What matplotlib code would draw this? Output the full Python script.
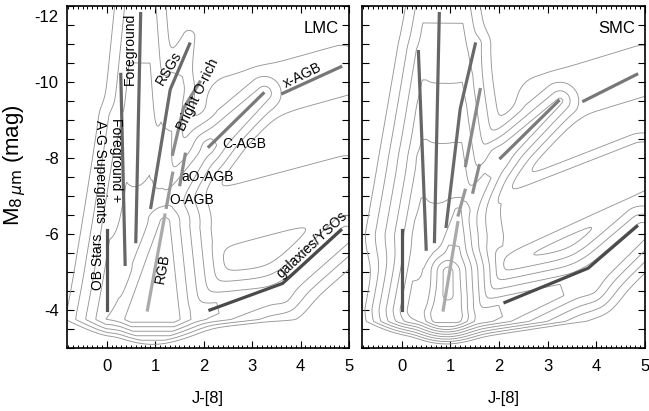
import numpy as np
import matplotlib
matplotlib.use("Agg")
import matplotlib.pyplot as plt
from matplotlib.ticker import MultipleLocator
from matplotlib.transforms import ScaledTranslation

plt.rcParams['font.family'] = ['Liberation Sans', 'DejaVu Sans']

# ---------------- sequence lines (J-[8], M8) ----------------
lmc_ob_x = [0.0, 0.0];            lmc_ob_y = [-4.0, -6.1]
lmc_fgag_x = [0.29, 0.38];        lmc_fgag_y = [-10.2, -5.2]
lmc_fg_x = [0.70, 0.60];          lmc_fg_y = [-11.8, -5.8]
lmc_rsg_x = [0.91, 1.31, 1.71];   lmc_rsg_y = [-6.7, -9.8, -11.0]
lmc_bor_x = [1.36, 1.58, 1.92];   lmc_bor_y = [-8.1, -9.3, -10.0]
lmc_cagb_x = [2.11, 3.23];        lmc_cagb_y = [-8.3, -9.7]
lmc_xagb_x = [3.63, 4.83];        lmc_xagb_y = [-9.7, -10.4]
lmc_aoagb_x = [1.51, 1.62];       lmc_aoagb_y = [-7.3, -8.1]
lmc_oagb_x = [1.23, 1.36];        lmc_oagb_y = [-6.7, -7.6]
lmc_rgb_x = [0.84, 1.20];         lmc_rgb_y = [-4.0, -6.5]
lmc_gal_x = [2.13, 3.63, 4.83];   lmc_gal_y = [-4.0, -4.7, -6.1]

smc_ob_x = [0.0, 0.0];            smc_ob_y = [-4.0, -6.1]
smc_fgag_x = [0.34, 0.50];        smc_fgag_y = [-10.8, -5.6]
smc_fg_x = [0.77, 0.67];          smc_fg_y = [-11.8, -5.8]
smc_rsg_x = [0.91, 1.20, 1.51];   smc_rsg_y = [-6.2, -9.3, -11.0]
smc_bor_x = [1.31, 1.61];         smc_bor_y = [-7.8, -9.8]
smc_cagb_x = [2.03, 3.22];        smc_cagb_y = [-8.0, -9.5]
smc_xagb_x = [3.74, 4.83];        smc_xagb_y = [-9.5, -10.2]
smc_aoagb_x = [1.46, 1.59];       smc_aoagb_y = [-7.1, -7.8]
smc_oagb_x = [1.16, 1.30];        smc_oagb_y = [-6.5, -7.15]
smc_rgb_x = [0.85, 1.15];         smc_rgb_y = [-4.0, -6.3]
smc_gal_x = [2.12, 3.83, 4.83];   smc_gal_y = [-4.2, -5.1, -6.2]

# ---------------- density model components (ridges) ----------------
# clump, band1, band2, left ridge, plume, RSG1, RSG2, arm1, arm2, x-AGB, mid lobe
lmc_x0 = [0.95, 1.30, 3.60, 0.10, 0.62, 0.95, 1.35, 1.30, 2.10, 2.60, 2.30]
lmc_y0 = [-3.7, -3.75, -4.45, -3.6, -5.5, -6.5, -9.8, -6.8, -8.3, -9.5, -6.4]
lmc_x1 = [1.20, 3.60, 4.95, 0.30, 0.70, 1.35, 1.70, 2.10, 3.25, 4.85, 4.95]
lmc_y1 = [-6.3, -4.45, -6.0, -9.0, -12.5, -9.8, -11.2, -8.3, -9.7, -10.3, -7.3]
lmc_a0 = [6.6, 4.6, 3.2, 5.0, 4.5, 4.2, 2.2, 4.6, 3.9, 1.6, 1.4]
lmc_a1 = [6.3, 3.2, 3.0, 2.5, 2.4, 2.4, 1.0, 3.9, 3.5, 1.6, 1.4]
lmc_r0 = [22, 6, 5, 6, 12, 6, 6, 4, 5, 18, 24]
lmc_r1 = [2, 5, 8, 6, 10, 6, 6, 4, 3, 18, 24]
lmc_w = [10, 10, 10, 10, 10, 10, 10, 8, 8, 12, 12]
lmc_cut_y = -3.75
lmc_cut_w = 4.5
lmc_levels = [1, 2, 3, 4, 5, 6]

# core, teardrop, band1, band2, left ridge1, left ridge2, plume, RSG1, RSG2, arm1, arm2, x-AGB, mid lobe
smc_x0 = [0.95, 0.92, 1.40, 3.80, 0.30, 0.42, 0.80, 1.00, 1.20, 1.30, 2.00, 2.90, 2.00]
smc_y0 = [-4.4, -3.9, -3.7, -4.75, -4.0, -8.0, -6.0, -6.2, -9.3, -6.6, -8.0, -9.5, -6.2]
smc_x1 = [0.95, 1.15, 3.80, 4.95, 0.42, 0.40, 0.85, 1.20, 1.50, 2.00, 3.25, 4.95, 4.95]
smc_y1 = [-5.0, -6.6, -4.75, -6.1, -8.0, -10.8, -12.5, -9.3, -11.0, -8.0, -9.5, -10.3, -7.8]
smc_a0 = [10.3, 9.3, 6.5, 4.6, 7.6, 4.4, 6.5, 5.0, 3.0, 5.8, 4.6, 1.6, 2.9]
smc_a1 = [10.3, 7.3, 4.6, 4.0, 4.4, 2.5, 2.4, 3.0, 2.0, 4.6, 4.0, 1.6, 2.4]
smc_r0 = [3, 14, 6, 6, 5, 5, 20, 5, 5, 4, 4, 18, 20]
smc_r1 = [3, 1, 6, 8, 5, 5, 20, 5, 5, 4, 3, 18, 20]
smc_w = [6, 6, 8, 8, 7, 8, 10, 9, 9, 7, 7, 12, 9]
smc_cut_y = -3.7
smc_cut_w = 4.0
smc_levels = [1, 2, 3, 4, 5, 6, 7, 8, 9, 10]

xticks = [0, 1, 2, 3, 4, 5]
yticks = [-4, -6, -8, -10, -12]

PXX, PXY = 48.4, 37.9  # pixels per data unit (x, y)


def density(X, Y, x0, y0, x1, y1, a0, a1, r0, r1, w, cut_y, cut_w, beta=2.2):
    acc = np.zeros_like(X)
    PX, PY = X * PXX, Y * PXY
    for i in range(len(x0)):
        ax, ay = x0[i] * PXX, y0[i] * PXY
        bx, by = x1[i] * PXX, y1[i] * PXY
        dx, dy = bx - ax, by - ay
        L2 = dx * dx + dy * dy
        t = np.clip(((PX - ax) * dx + (PY - ay) * dy) / L2, 0, 1)
        d = np.hypot(PX - (ax + t * dx), PY - (ay + t * dy))
        r = r0[i] + (r1[i] - r0[i]) * t
        a = a0[i] + (a1[i] - a0[i]) * t
        val = a - np.maximum(0, d - r) / w[i]
        acc += np.exp(beta * val)
    f = np.log(acc) / beta
    f -= np.maximum(0, Y - cut_y) * PXY / cut_w
    return f


xg = np.linspace(-0.9, 5.1, 500)
yg = np.linspace(-2.9, -12.6, 600)
XG, YG = np.meshgrid(xg, yg)

fig = plt.figure(figsize=(6.49, 4.11), dpi=100)
axL = fig.add_axes([67 / 649, 1 - 348 / 411, 282 / 649, 342 / 411])
axR = fig.add_axes([362 / 649, 1 - 348 / 411, 283 / 649, 342 / 411])

CCOL = '#979797'
CLW = 0.65


def style(ax, labels_y):
    ax.set_xlim(-0.82, 5.0)
    ax.set_ylim(-3.0, -12.0)
    ax.xaxis.set_minor_locator(MultipleLocator(0.1))
    ax.yaxis.set_minor_locator(MultipleLocator(0.5))
    ax.set_xticks(xticks)
    ax.set_xticklabels([str(v) for v in xticks])
    ax.set_yticks(yticks)
    if labels_y:
        ax.set_yticklabels([str(v) for v in yticks])
    else:
        ax.set_yticklabels([])
    ax.tick_params(which='both', direction='in', top=True, right=True, labelsize=12, color='black')
    ax.tick_params(axis='x', which='major', length=5, width=0.8, pad=8)
    ax.tick_params(axis='x', which='minor', length=2.5, width=0.7)
    ax.tick_params(axis='y', which='both', length=5, width=0.8, pad=6)
    for s in ax.spines.values():
        s.set_linewidth(1.2)
    ax.set_xlabel('J-[8]', fontsize=12, labelpad=12)


# ---- LMC ----
fL = density(XG, YG, lmc_x0, lmc_y0, lmc_x1, lmc_y1, lmc_a0, lmc_a1, lmc_r0, lmc_r1, lmc_w,
             lmc_cut_y, lmc_cut_w)
axL.contour(XG, YG, fL, levels=lmc_levels, colors=CCOL, linewidths=CLW)

LW = 2.3
axL.plot(lmc_ob_x, lmc_ob_y, color='#555555', lw=LW)
axL.plot(lmc_fgag_x, lmc_fgag_y, color='#666666', lw=LW)
axL.plot(lmc_fg_x, lmc_fg_y, color='#666666', lw=LW)
axL.plot(lmc_rsg_x, lmc_rsg_y, color='#6a6a6a', lw=LW)
axL.plot(lmc_bor_x, lmc_bor_y, color='#8a8a8a', lw=LW)
axL.plot(lmc_cagb_x, lmc_cagb_y, color='#7a7a7a', lw=LW)
axL.plot(lmc_xagb_x, lmc_xagb_y, color='#777777', lw=LW)
axL.plot(lmc_aoagb_x, lmc_aoagb_y, color='#8a8a8a', lw=LW)
axL.plot(lmc_oagb_x, lmc_oagb_y, color='#999999', lw=LW)
axL.plot(lmc_rgb_x, lmc_rgb_y, color='#aaaaaa', lw=LW)
axL.plot(lmc_gal_x, lmc_gal_y, color='#4a4a4a', lw=LW)

TF = 10
axL.text(4.42, -11.4, 'LMC', fontsize=12, ha='center', va='center')
axL.text(0.48, -10.86, 'Foreground', fontsize=TF, rotation=90, ha='center', va='center')
axL.text(1.29, -10.36, 'RSGs', fontsize=TF, rotation=59, ha='center', va='center')
axL.text(1.89, -9.67, 'Bright O-rich', fontsize=TF, rotation=64, ha='center', va='center')
axL.text(4.04, -10.17, 'x-AGB', fontsize=TF, rotation=26, ha='center', va='center')
axL.text(2.84, -8.38, 'C-AGB', fontsize=TF, ha='center', va='center')
axL.text(2.08, -7.50, 'aO-AGB', fontsize=TF, ha='center', va='center')
axL.text(1.75, -6.90, 'O-AGB', fontsize=TF, ha='center', va='center')
axL.text(0.19, -7.95, 'Foreground +', fontsize=TF, rotation=-90, ha='center', va='center')
axL.text(-0.14, -7.64, 'A-G Supergiants', fontsize=TF, rotation=-90, ha='center', va='center')
axL.text(-0.19, -5.27, 'OB Stars', fontsize=TF, rotation=90, ha='center', va='center')
axL.text(1.15, -5.10, 'RGB', fontsize=TF, rotation=80, ha='center', va='center')
axL.text(4.23, -5.72, 'galaxies/YSOs', fontsize=TF, rotation=43, ha='center', va='center')

style(axL, True)
axL.set_ylabel(r'M$_{8\,\mu\rm m}$ (mag)', fontsize=16)
axL.yaxis.set_label_coords(-0.138, 0.535)
for lab in axL.get_yticklabels():
    if lab.get_text() == '-12':
        lab.set_transform(lab.get_transform() + ScaledTranslation(0, -7 / 72, fig.dpi_scale_trans))

# ---- SMC ----
fS = density(XG, YG, smc_x0, smc_y0, smc_x1, smc_y1, smc_a0, smc_a1, smc_r0, smc_r1, smc_w,
             smc_cut_y, smc_cut_w)
axR.contour(XG, YG, fS, levels=smc_levels, colors=CCOL, linewidths=CLW)

axR.plot(smc_ob_x, smc_ob_y, color='#555555', lw=LW)
axR.plot(smc_fgag_x, smc_fgag_y, color='#666666', lw=LW)
axR.plot(smc_fg_x, smc_fg_y, color='#666666', lw=LW)
axR.plot(smc_rsg_x, smc_rsg_y, color='#6a6a6a', lw=LW)
axR.plot(smc_bor_x, smc_bor_y, color='#8a8a8a', lw=LW)
axR.plot(smc_cagb_x, smc_cagb_y, color='#7a7a7a', lw=LW)
axR.plot(smc_xagb_x, smc_xagb_y, color='#777777', lw=LW)
axR.plot(smc_aoagb_x, smc_aoagb_y, color='#8a8a8a', lw=LW)
axR.plot(smc_oagb_x, smc_oagb_y, color='#999999', lw=LW)
axR.plot(smc_rgb_x, smc_rgb_y, color='#aaaaaa', lw=LW)
axR.plot(smc_gal_x, smc_gal_y, color='#4a4a4a', lw=LW)
axR.text(4.42, -11.4, 'SMC', fontsize=12, ha='center', va='center')

style(axR, False)

fig.savefig('out.png', dpi=100)
